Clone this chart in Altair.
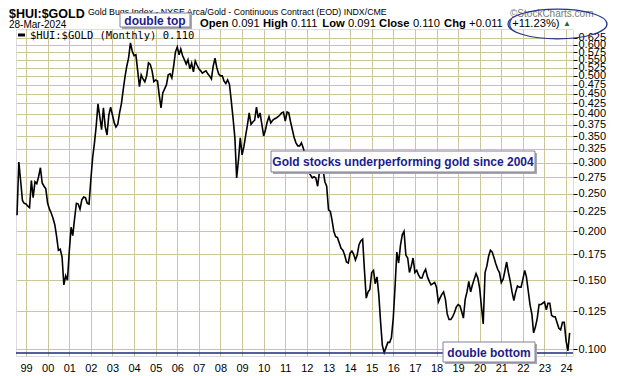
import altair as alt
import pandas as pd

# Monthly $HUI:$GOLD ratio (Aug 1998 - Mar 2024)
v1998 = [0.220, 0.301, 0.270, 0.240, 0.236]
v1999 = [0.235, 0.232, 0.230, 0.270, 0.244, 0.268, 0.265, 0.276, 0.291, 0.266, 0.261, 0.257]
v2000 = [0.236, 0.228, 0.223, 0.216, 0.208, 0.194, 0.179, 0.180, 0.172, 0.146, 0.154, 0.150]
v2001 = [0.178, 0.205, 0.195, 0.216, 0.236, 0.235, 0.228, 0.241, 0.245, 0.244, 0.236, 0.235]
v2002 = [0.272, 0.310, 0.335, 0.372, 0.424, 0.393, 0.364, 0.414, 0.370, 0.353, 0.397, 0.416]
v2003 = [0.397, 0.379, 0.370, 0.376, 0.402, 0.424, 0.460, 0.497, 0.530, 0.556, 0.607, 0.579]
v2004 = [0.563, 0.566, 0.518, 0.469, 0.503, 0.491, 0.483, 0.500, 0.540, 0.535, 0.515, 0.483]
v2005 = [0.488, 0.485, 0.447, 0.414, 0.452, 0.463, 0.474, 0.503, 0.506, 0.494, 0.530, 0.576]
v2006 = [0.593, 0.566, 0.586, 0.563, 0.550, 0.536, 0.550, 0.521, 0.539, 0.512, 0.546, 0.533]
v2007 = [0.521, 0.515, 0.508, 0.512, 0.515, 0.506, 0.500, 0.491, 0.530, 0.555, 0.524, 0.506]
v2008 = [0.500, 0.500, 0.485, 0.478, 0.488, 0.476, 0.433, 0.390, 0.347, 0.274, 0.305, 0.347]
v2009 = [0.314, 0.330, 0.351, 0.374, 0.402, 0.376, 0.381, 0.385, 0.416, 0.390, 0.402, 0.376]
v2010 = [0.351, 0.364, 0.381, 0.393, 0.379, 0.385, 0.388, 0.390, 0.393, 0.397, 0.402, 0.404]
v2011 = [0.383, 0.404, 0.402, 0.381, 0.364, 0.347, 0.337, 0.331, 0.331, 0.337, 0.327, 0.314]
v2012 = [0.296, 0.284, 0.279, 0.274, 0.276, 0.274, 0.261, 0.284, 0.292, 0.287, 0.268, 0.261]
v2013 = [0.227, 0.225, 0.214, 0.200, 0.194, 0.193, 0.187, 0.181, 0.179, 0.174, 0.167, 0.166]
v2014 = [0.176, 0.178, 0.175, 0.169, 0.174, 0.185, 0.189, 0.191, 0.159, 0.135, 0.140, 0.142]
v2015 = [0.157, 0.159, 0.147, 0.153, 0.138, 0.117, 0.102, 0.098, 0.101, 0.104, 0.104, 0.107]
v2016 = [0.120, 0.145, 0.177, 0.166, 0.184, 0.196, 0.200, 0.174, 0.171, 0.157, 0.163, 0.171]
v2017 = [0.157, 0.159, 0.155, 0.152, 0.152, 0.157, 0.160, 0.153, 0.149, 0.146, 0.147, 0.148]
v2018 = [0.144, 0.132, 0.135, 0.138, 0.140, 0.134, 0.123, 0.119, 0.119, 0.121, 0.124, 0.128]
v2019 = [0.130, 0.129, 0.125, 0.120, 0.134, 0.140, 0.149, 0.140, 0.146, 0.151, 0.156, 0.152]
v2020 = [0.143, 0.128, 0.116, 0.157, 0.163, 0.173, 0.179, 0.177, 0.171, 0.165, 0.160, 0.157]
v2021 = [0.148, 0.151, 0.158, 0.167, 0.157, 0.149, 0.140, 0.133, 0.140, 0.145, 0.144, 0.144]
v2022 = [0.151, 0.159, 0.153, 0.141, 0.130, 0.123, 0.110, 0.114, 0.120, 0.130, 0.130, 0.131]
v2023 = [0.132, 0.126, 0.131, 0.131, 0.122, 0.121, 0.121, 0.117, 0.113, 0.112, 0.117, 0.117]
v2024 = [0.105, 0.099, 0.110]

support_level = 0.0977  # hand-drawn "double bottom" line
y_ticks = [0.100, 0.125, 0.150, 0.175, 0.200, 0.225, 0.250, 0.275, 0.300, 0.325, 0.350,
           0.375, 0.400, 0.425, 0.450, 0.475, 0.500, 0.525, 0.550, 0.575, 0.600, 0.625]
x_years = list(range(1999, 2025))

all_years = [v1998, v1999, v2000, v2001, v2002, v2003, v2004, v2005, v2006, v2007, v2008,
             v2009, v2010, v2011, v2012, v2013, v2014, v2015, v2016, v2017, v2018, v2019,
             v2020, v2021, v2022, v2023, v2024]
values = [v for yr in all_years for v in yr]
dates = pd.date_range("1998-08-01", periods=len(values), freq="MS")
df = pd.DataFrame({"date": dates.strftime("%Y-%m-%dT00:00:00"), "ratio": values})

BG = "#FAF7C6"
GRID = "#CBC79A"
NAVY = "#1C1C8C"
one = pd.DataFrame({"k": [0]})

x_enc = alt.X("date:T", title=None,
              scale=alt.Scale(domain=[alt.DateTime(year=1998, month=7, date=15),
                                      alt.DateTime(year=2024, month=4, date=27)], nice=False),
              axis=alt.Axis(values=[alt.DateTime(year=y, month=1, date=1) for y in x_years],
                            format="%y", labelFontSize=11, labelFont="Liberation Sans",
                            labelColor="black", grid=True, gridColor=GRID, gridOpacity=1,
                            ticks=False, domain=False, labelPadding=6, labelFlush=False,
                            labelOverlap=False))
y_enc = alt.Y("ratio:Q", title=None,
              scale=alt.Scale(type="log", domain=[0.0960, 0.659], nice=False),
              axis=alt.Axis(orient="right", values=y_ticks, format=".3f", labelFontSize=11,
                            labelFont="Liberation Sans", labelColor="black", tickSize=4,
                            tickColor="black", labelPadding=1, grid=True, gridColor=GRID,
                            gridOpacity=1, domain=False, labelOverlap=False, labelFlush=False))

line = alt.Chart(df).mark_line(color="black", strokeWidth=1.6).encode(x=x_enc, y=y_enc)

support = alt.Chart(one).mark_rule(color="#1F2A7A", strokeWidth=1.5).encode(
    y=alt.datum(support_level))


def txt(s, x, y, size=11, weight="normal", color="black", font="Liberation Sans",
        align="left", baseline="middle"):
    return alt.Chart(one).mark_text(text=s, fontSize=size, fontWeight=weight, color=color,
                                    font=font, align=align, baseline=baseline).encode(
        x=alt.value(x), y=alt.value(y))


def rect(x1, y1, x2, y2, fill, stroke=None):
    kw = dict(fill=fill)
    if stroke:
        kw.update(stroke=stroke, strokeWidth=1)
    return alt.Chart(one).mark_rect(**kw).encode(
        x=alt.value(x1), x2=alt.value(x2), y=alt.value(y1), y2=alt.value(y2))


def note(s, x1, y1, x2, y2):
    return [rect(x1 + 2, y1 + 2, x2 + 2, y2 + 2, "#A8A8A8"),
            rect(x1, y1, x2, y2, "white", "#7E7E9E"),
            txt(s, (x1 + x2) / 2, (y1 + y2) / 2 + 0.5, size=12, weight="bold", color=NAVY,
                align="center")]


layers = [line, support]

# legend inside plot
layers.append(alt.Chart(one).mark_rule(color="black", strokeWidth=3).encode(
    x=alt.value(2), x2=alt.value(9), y=alt.value(6)))
layers.append(txt("$HUI:$GOLD (Monthly) 0.110", 14, 6.5, size=10.5, font="DejaVu Sans Mono"))

# header
layers.append(txt("$HUI:$GOLD", -7, -11, size=12.5, weight="bold", baseline="alphabetic"))
layers.append(txt("Gold Bugs Index - NYSE Arca/Gold - Continuous Contract (EOD) INDX/CME",
                  72, -14.5, size=8.8, baseline="alphabetic"))
layers.append(txt("\u00a9StockCharts.com", 494, -12.5, size=10, color="#7A7A7A",
                  baseline="alphabetic"))
layers.append(txt("28-Mar-2024", -7, -1.5, size=10, baseline="alphabetic"))

row = [("Open", 184, "bold"), ("0.091", 215.8, "normal"), ("High", 247, "bold"),
       ("0.111", 275.1, "normal"), ("Low", 306.3, "bold"), ("0.091", 331.9, "normal"),
       ("Close", 363.1, "bold"), ("0.110", 396.9, "normal"), ("Chg", 428.1, "bold"),
       ("+0.011", 453.1, "normal"), ("(+11.23%)", 492.5, "normal")]
for s, x, w in row:
    layers.append(txt(s, x, -2, size=11.2, weight=w, baseline="alphabetic"))
layers.append(txt("\u25b2", 547, -5.5, size=8, color="#2F5F3F"))

# ellipse around the change
layers.append(alt.Chart(one).mark_point(
    shape="M -1 0 A 1 0.3 0 1 1 1 0 A 1 0.3 0 1 1 -1 0 Z", size=9801, filled=False,
    stroke="#22338F", strokeWidth=1.3, opacity=1).encode(x=alt.value(541.5), y=alt.value(-5)))

# annotation boxes
layers += note("double top", 104, -16, 174, -2)
layers += note("Gold stocks underperforming gold since 2004", 255, 122, 519, 143)
layers += note("double bottom", 427, 313, 519, 333)

chart = alt.layer(*layers).properties(
    width=557, height=327,
    padding={"left": 8, "top": 21, "right": 39, "bottom": 17},
    autosize=alt.AutoSizeParams(type="none"),
).configure_view(fill=BG, stroke="#4A4A4A", strokeWidth=1).configure(background="white")

chart.save("out.html", embed_options={"renderer": "svg", "actions": False})
